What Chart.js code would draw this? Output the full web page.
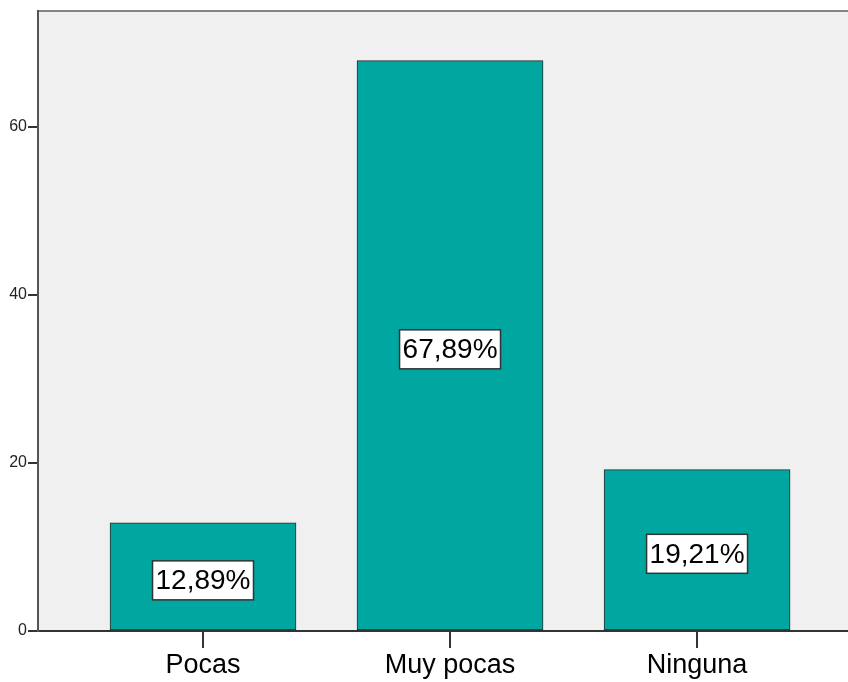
<!DOCTYPE html>
<html>
<head>
<meta charset="utf-8">
<script src="https://cdn.jsdelivr.net/npm/chart.js@4/dist/chart.umd.min.js"></script>
<style>
  html, body { margin: 0; padding: 0; background: #fff; }
  canvas { display: block; }
</style>
</head>
<body>
<canvas id="chart" width="848" height="682"></canvas>
<script>
const categories = ['Pocas', 'Muy pocas', 'Ninguna'];
const percentages = [12.89, 67.89, 19.21];
const percentLabels = ['12,89%', '67,89%', '19,21%'];
const yTicks = [0, 20, 40, 60];

const barData = percentages.map((v, i) => ({ x: i, y: v }));

// grey plot background plus the top frame line
const plotFrame = {
  id: 'plotFrame',
  beforeDraw(chart) {
    const { ctx, chartArea: a } = chart;
    ctx.save();
    ctx.fillStyle = '#f0f0f0';
    ctx.fillRect(a.left, a.top, a.right - a.left, a.bottom - a.top);
    ctx.strokeStyle = '#858585';
    ctx.lineWidth = 2;
    ctx.beginPath();
    ctx.moveTo(a.left, a.top);
    ctx.lineTo(a.right, a.top);
    ctx.stroke();
    ctx.restore();
  }
};

// white boxed percentage labels in the middle of each bar
const boxLabels = {
  id: 'boxLabels',
  afterDatasetsDraw(chart) {
    const { ctx } = chart;
    const meta = chart.getDatasetMeta(0);
    ctx.save();
    ctx.font = '28px Arial, "Liberation Sans", sans-serif';
    ctx.textAlign = 'center';
    ctx.textBaseline = 'middle';
    meta.data.forEach((bar, i) => {
      const text = percentLabels[i];
      const cx = bar.x;
      const cy = (bar.y + bar.base) / 2 + 4;
      const w = ctx.measureText(text).width + 6;
      const h = 39;
      ctx.fillStyle = '#ffffff';
      ctx.fillRect(cx - w / 2, cy - h / 2, w, h);
      ctx.strokeStyle = '#333333';
      ctx.lineWidth = 1.5;
      ctx.strokeRect(cx - w / 2, cy - h / 2, w, h);
      ctx.fillStyle = '#000000';
      ctx.fillText(text, cx, cy + 1);
    });
    ctx.restore();
  }
};

new Chart(document.getElementById('chart'), {
  type: 'bar',
  data: {
    datasets: [{
      data: barData,
      backgroundColor: '#00a6a0',
      borderColor: '#2b2b2b',
      borderWidth: 1,
      borderSkipped: false,
      barThickness: 186
    }]
  },
  options: {
    responsive: false,
    animation: false,
    layout: { padding: { top: 11, right: 0, left: 0, bottom: 0 } },
    plugins: {
      legend: { display: false },
      tooltip: { enabled: false }
    },
    scales: {
      x: {
        type: 'linear',
        offset: false,
        min: -0.668,
        max: 2.611,
        afterBuildTicks(scale) {
          scale.ticks = categories.map((c, i) => ({ value: i }));
        },
        afterFit(scale) { scale.height = 51; },
        ticks: {
          callback: (v) => categories[v],
          color: '#000',
          font: { family: 'Arial, "Liberation Sans", sans-serif', size: 27 },
          padding: 1,
          maxRotation: 0
        },
        grid: {
          display: true,
          offset: false,
          drawOnChartArea: false,
          drawTicks: true,
          tickLength: 17,
          color: '#333',
          lineWidth: 2
        },
        border: { display: true, color: '#333', width: 2 }
      },
      y: {
        min: 0,
        max: 73.8,
        afterBuildTicks(scale) {
          scale.ticks = yTicks.map(v => ({ value: v }));
        },
        afterFit(scale) { scale.width = 38; },
        ticks: {
          color: '#222',
          font: { family: 'Arial, "Liberation Sans", sans-serif', size: 16 },
          padding: 1
        },
        grid: {
          display: true,
          drawOnChartArea: false,
          drawTicks: true,
          tickLength: 10,
          color: '#333',
          lineWidth: 2
        },
        border: { display: true, color: '#555', width: 2 }
      }
    }
  },
  plugins: [plotFrame, boxLabels]
});
</script>
</body>
</html>
